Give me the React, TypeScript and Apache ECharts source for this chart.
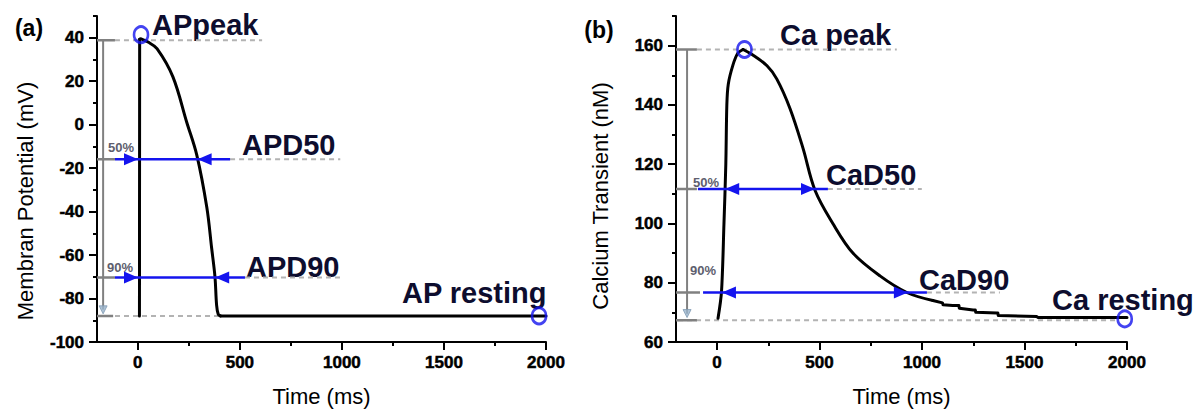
import React, { useEffect, useRef } from 'react';
import * as echarts from 'echarts';

// ---------- Panel (a): action potential (upstroke, repolarisation, resting) ----------
const apUpTime = [8, 9];
const apUpVoltage = [-88, 39.3];
const apDecayTime = [9, 15, 20, 50, 94, 172, 240, 289, 338, 362, 378, 386, 394, 405];
const apDecayVoltage = [39.3, 39.5, 39.3, 38, 35, 22, 1, -14, -38, -57, -70, -83, -87.2, -88];
const apRestTime = [405, 2000];
const apRestVoltage = [-88, -88];

// ---------- Panel (b): calcium transient (rise, decay, stepped tail) ----------
const caRiseTime = [5, 22, 34, 43, 48, 55, 78, 102, 127];
const caRiseConc = [68, 77, 100, 120, 140, 147, 153.5, 157.5, 158.7];
const caDecayTime = [127, 171, 244, 292, 356, 419, 478, 565, 663, 795, 926, 1053];
const caDecayConc = [158.7, 157, 153.2, 148.7, 138.8, 125.5, 111.2, 100, 90, 82.3, 76.7, 74];
const caTailTime = [1053, 1100, 1102, 1150, 1180, 1182, 1249, 1260, 1262, 1365, 1370, 1372, 1560, 1565, 2000];
const caTailConc = [74, 73.2, 72.6, 72.3, 72.3, 71.4, 70.8, 70.8, 70.0, 69.8, 69.8, 68.9, 68.6, 68.3, 68.3];

// ---------- Ticks ----------
const timeTicks = [0, 500, 1000, 1500, 2000];
const timeMinorTicks = [250, 750, 1250, 1750];
const apTicks = [-100, -80, -60, -40, -20, 0, 20, 40];
const apMinorTicks = [-90, -70, -50, -30, -10, 10, 30, 50];
const caTicks = [60, 80, 100, 120, 140, 160];
const caMinorTicks = [70, 90, 110, 130, 150, 170];

// ---------- Annotation levels: peak, 50%, 90%, resting ----------
const apLevels = [38.8, -15.9, -70.3, -88];
const apGuideFrom = [-112, 452, 525, -200];
const apGuideTo = [609, 992, 1002, 600];
const apCapTo = [-112, -112, -112, -121];
const caLevels = [158.7, 111.6, 76.7, 67.3];
const caGuideFrom = [-98, 541, 1024, -190];
const caGuideTo = [877, 999, 1380, 1955];
const caCapTo = [-98, -98, -83, -98];

// ---------- Duration arrows (50%, 90%) ----------
const apArrowLevels = [-15.9, -70.3];
const apArrowFrom = [-112, -112];
const apArrowTo = [452, 525];
const apArrowStartTip = [1, 1];
const apArrowEndTip = [293, 379];
const caArrowLevels = [111.6, 76.7];
const caArrowFrom = [-93, -68];
const caArrowTo = [541, 1024];
const caArrowStartTip = [40, 24];
const caArrowEndTip = [478, 931];

// ---------- Amplitude brackets ----------
const apBracket = [-170, 38.8, -85];   // time, top, bottom
const apBracketHead = [-170, -85.2];
const caBracket = [-146, 158.7, 69.5];
const caBracketHead = [-146, 69.6];

// ---------- Markers (peak, resting) ----------
const apMarkerTime = [15.7, 1966];
const apMarkerVoltage = [41.4, -88];
const caMarkerTime = [134, 1989];
const caMarkerConc = [158.7, 67.8];

const FONT = '"Liberation Sans", Arial, Helvetica, sans-serif';
const BLUE = '#1414ee';
const NAVY = '#0d0d2e';
const GRAY = '#808080';
const LIGHT = '#b3b3b3';

const plain = (v: number) => String(v);
const labelStyle = {
  formatter: plain, color: '#000', fontSize: 17, fontWeight: 'bold', fontFamily: FONT,
  textBorderColor: '#000', textBorderWidth: 0.5,
};

function mainX(gridIndex: number) {
  return {
    type: 'value', gridIndex, min: -200, max: 2000, position: 'bottom',
    axisLine: { show: true, onZero: false, lineStyle: { color: '#000', width: 2 } },
    axisTick: { show: true, customValues: timeTicks, length: 8, lineStyle: { color: '#000', width: 2 } },
    axisLabel: { show: true, customValues: timeTicks, margin: 12, ...labelStyle },
    splitLine: { show: false },
    name: 'Time (ms)', nameLocation: 'middle', nameGap: 43,
    nameTextStyle: { fontSize: 22, color: '#000', fontFamily: FONT },
  };
}
function minorX(gridIndex: number) {
  return {
    type: 'value', gridIndex, min: -200, max: 2000, position: 'bottom',
    axisLine: { show: false, onZero: false },
    axisTick: { show: true, customValues: timeMinorTicks, length: 4, lineStyle: { color: '#000', width: 2 } },
    axisLabel: { show: false }, splitLine: { show: false },
  };
}
function mainY(gridIndex: number, min: number, max: number, ticks: number[]) {
  return {
    type: 'value', gridIndex, min, max, position: 'left',
    axisLine: { show: true, onZero: false, lineStyle: { color: '#000', width: 2 } },
    axisTick: { show: true, customValues: ticks, length: 8, lineStyle: { color: '#000', width: 2 } },
    axisLabel: { show: true, customValues: ticks, margin: 13, ...labelStyle },
    splitLine: { show: false },
  };
}
function minorY(gridIndex: number, min: number, max: number, ticks: number[]) {
  return {
    type: 'value', gridIndex, min, max, position: 'left',
    axisLine: { show: false, onZero: false },
    axisTick: { show: true, customValues: ticks, length: 4, lineStyle: { color: '#000', width: 2 } },
    axisLabel: { show: false }, splitLine: { show: false },
  };
}

function seg(xi: number, yi: number, pts: number[][], lineStyle: any, z = 2, smooth: number | boolean = false) {
  return {
    type: 'line', xAxisIndex: xi, yAxisIndex: yi, data: pts, symbol: 'none',
    lineStyle, silent: true, z, smooth,
  };
}

function arrows(xi: number, yi: number, levels: number[], from: number[], to: number[], sTip: number[], eTip: number[], sDir: number, eDir: number) {
  return {
    type: 'custom', coordinateSystem: 'cartesian2d', xAxisIndex: xi, yAxisIndex: yi, z: 5, silent: true,
    encode: { x: [0, 2, 3, 4], y: 1 },
    data: levels.map((lv, i) => [from[i], lv, to[i], sTip[i], eTip[i]]),
    renderItem: (params: any, api: any) => {
      const y = api.value(1);
      const a = api.coord([api.value(0), y]);
      const b = api.coord([api.value(2), y]);
      const s = api.coord([api.value(3), y]);
      const e = api.coord([api.value(4), y]);
      const L = 14, W = 6;
      const head = (p: number[], dir: number) => ({
        type: 'polygon',
        shape: { points: [[p[0], p[1]], [p[0] - dir * L, p[1] - W], [p[0] - dir * L, p[1] + W]] },
        style: { fill: BLUE },
      });
      return {
        type: 'group',
        children: [
          { type: 'line', shape: { x1: a[0], y1: a[1], x2: b[0], y2: b[1] }, style: { stroke: BLUE, lineWidth: 2.5 } },
          head(s, sDir), head(e, eDir),
        ],
      };
    },
  };
}

type Piece = { t: number[]; v: number[]; smooth: number | boolean };

function panelSeries(xi: number, yi: number, pieces: Piece[], levels: number[], gFrom: number[], gTo: number[], capTo: number[], bracket: number[], bracketHead: number[], mT: number[], mV: number[]) {
  const out: any[] = [];
  const dashed = { color: LIGHT, width: 2, type: [5, 4] };
  const solid = { color: GRAY, width: 2.5 };
  levels.forEach((lv, i) => {
    out.push(seg(xi, yi, [[gFrom[i], lv], [gTo[i], lv]], dashed, 1));
    out.push(seg(xi, yi, [[-200, lv], [capTo[i], lv]], solid, 2));
  });
  out.push(seg(xi, yi, [[bracket[0], bracket[1]], [bracket[0], bracket[2]]], { color: GRAY, width: 2 }, 2));
  out.push({
    type: 'scatter', xAxisIndex: xi, yAxisIndex: yi, data: [bracketHead], symbol: 'triangle', symbolRotate: 180,
    symbolSize: [8, 8], itemStyle: { color: '#9ab4cc', borderColor: '#7f9ab3', borderWidth: 1 }, z: 3, silent: true,
  });
  pieces.forEach((p) => {
    out.push(seg(xi, yi, p.t.map((t, i) => [t, p.v[i]]), { color: '#000', width: 3, join: 'round', cap: 'round' }, 4, p.smooth));
  });
  out.push({
    type: 'scatter', xAxisIndex: xi, yAxisIndex: yi, data: mT.map((t, i) => [t, mV[i]]), symbol: 'circle',
    symbolSize: [14, 16], itemStyle: { color: 'rgba(0,0,0,0)', borderColor: BLUE, borderWidth: 2.8 }, z: 6, silent: true,
  });
  return out;
}

function txt(x: number, y: number, text: string, size: number, weight: string, color: string, align = 'left', rotation = 0) {
  return {
    type: 'text', x, y, rotation, silent: true,
    style: { text, fill: color, font: `${weight} ${size}px ${FONT}`, align, verticalAlign: 'middle' },
  };
}

function buildOption() {
  const apPieces: Piece[] = [
    { t: apUpTime, v: apUpVoltage, smooth: false },
    { t: apDecayTime, v: apDecayVoltage, smooth: 0.35 },
    { t: apRestTime, v: apRestVoltage, smooth: false },
  ];
  const caPieces: Piece[] = [
    { t: caRiseTime, v: caRiseConc, smooth: 0.3 },
    { t: caDecayTime, v: caDecayConc, smooth: 0.35 },
    { t: caTailTime, v: caTailConc, smooth: false },
  ];
  return {
    animation: false,
    backgroundColor: '#fff',
    grid: [
      { left: 97, top: 16, width: 449, height: 331 },
      { left: 676, top: 16, width: 451, height: 331 },
    ],
    xAxis: [mainX(0), minorX(0), mainX(1), minorX(1)],
    yAxis: [
      mainY(0, -100, 50, apTicks), minorY(0, -100, 50, apMinorTicks),
      mainY(1, 60, 170, caTicks), minorY(1, 60, 170, caMinorTicks),
    ],
    series: [
      ...panelSeries(0, 0, apPieces, apLevels, apGuideFrom, apGuideTo, apCapTo, apBracket, apBracketHead, apMarkerTime, apMarkerVoltage),
      arrows(0, 0, apArrowLevels, apArrowFrom, apArrowTo, apArrowStartTip, apArrowEndTip, 1, -1),
      ...panelSeries(2, 2, caPieces, caLevels, caGuideFrom, caGuideTo, caCapTo, caBracket, caBracketHead, caMarkerTime, caMarkerConc),
      arrows(2, 2, caArrowLevels, caArrowFrom, caArrowTo, caArrowStartTip, caArrowEndTip, -1, 1),
    ],
    graphic: [
      txt(29, 28, '(a)', 23, 'bold', '#000', 'center'),
      txt(599, 30, '(b)', 23, 'bold', '#000', 'center'),
      txt(25, 201, 'Membran Potential (mV)', 22, 'normal', '#000', 'center', Math.PI / 2),
      txt(600, 196, 'Calcium Transient (nM)', 22, 'normal', '#000', 'center', Math.PI / 2),
      txt(152, 25, 'APpeak', 29, 'bold', NAVY),
      txt(242, 145, 'APD50', 29, 'bold', NAVY),
      txt(246, 267, 'APD90', 29, 'bold', NAVY),
      txt(402, 293, 'AP resting', 29, 'bold', NAVY),
      txt(780, 35, 'Ca peak', 29, 'bold', NAVY),
      txt(826, 175, 'CaD50', 29, 'bold', NAVY),
      txt(919, 280, 'CaD90', 29, 'bold', NAVY),
      txt(1052, 300, 'Ca resting', 29, 'bold', NAVY),
      txt(121, 147, '50%', 13, 'bold', '#5e5e6e', 'center'),
      txt(120, 267, '90%', 13, 'bold', '#5e5e6e', 'center'),
      txt(706, 182, '50%', 13, 'bold', '#5e5e6e', 'center'),
      txt(703, 270, '90%', 13, 'bold', '#5e5e6e', 'center'),
    ],
  };
}

export default function App() {
  const ref = useRef<HTMLDivElement>(null);
  useEffect(() => {
    const chart = echarts.init(ref.current as HTMLDivElement, null, { renderer: 'svg' });
    chart.setOption(buildOption() as any);
    return () => chart.dispose();
  }, []);
  return (
    <div
      ref={ref}
      style={{ position: 'absolute', left: 0, top: 0, width: 1198, height: 412, background: '#fff' }}
    />
  );
}
